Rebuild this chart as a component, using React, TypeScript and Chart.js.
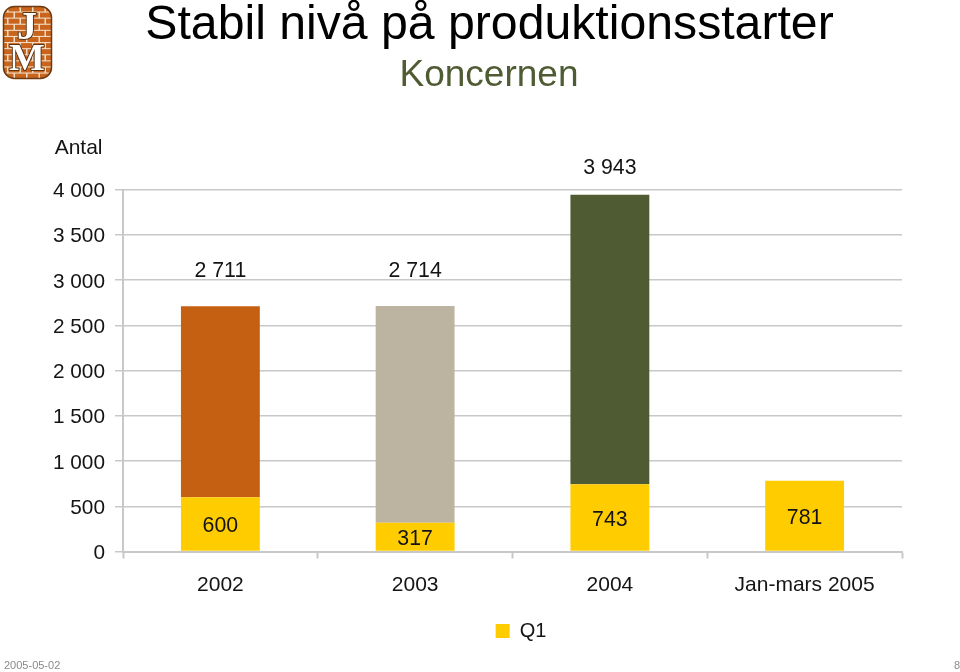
import React, { useEffect, useRef } from "react";
import { Chart, registerables } from "chart.js";

Chart.register(...registerables);

const categories = ["2002", "2003", "2004", "Jan-mars 2005"];
const q1Values = [600, 317, 743, 781];
const restValues = [2111, 2397, 3200, 0];
const restColors = ["#c55f12", "#bcb3a0", "#4f5b33", "#4f5b33"];
const totalLabels = ["2 711", "2 714", "3 943", ""];
const q1Labels = ["600", "317", "743", "781"];
const yTickValues = [0, 500, 1000, 1500, 2000, 2500, 3000, 3500, 4000];
const yTickLabels = ["0", "500", "1 000", "1 500", "2 000", "2 500", "3 000", "3 500", "4 000"];
const titleText = "Stabil nivå på produktionsstarter";
const subtitleText = "Koncernen";
const yAxisTitle = "Antal";
const footerDate = "2005-05-02";
const footerPage = "8";

const FONT = '"Liberation Sans", Arial, sans-serif';
const YELLOW = "#ffcc00";
const GRID = "#c8c8c8";
const TEXT = "#141414";
const totalLift = [35, 35, 27, 0];

function drawLogo(ctx: CanvasRenderingContext2D) {
  ctx.save();
  ctx.beginPath();
  ctx.roundRect(3.5, 6.5, 48, 72, 11);
  ctx.fillStyle = "#f0dcc4";
  ctx.fill();
  ctx.clip();
  ctx.fillStyle = "#c9641c";
  for (let r = 0; r < 12; r++) {
    const y = 6.5 + r * 6.1;
    const off = r % 2 === 0 ? -4 : -10;
    for (let x = off; x < 56; x += 12.5) {
      ctx.fillRect(x, y, 11, 5);
    }
  }
  ctx.restore();
  ctx.beginPath();
  ctx.roundRect(3.5, 6.5, 48, 72, 11);
  ctx.strokeStyle = "#6e3a12";
  ctx.lineWidth = 1.5;
  ctx.stroke();
  ctx.textAlign = "center";
  ctx.textBaseline = "alphabetic";
  ctx.lineJoin = "round";
  ctx.lineWidth = 2;
  ctx.strokeStyle = "#5a3413";
  ctx.fillStyle = "#ffffff";
  ctx.font = 'bold 40px "Liberation Serif", serif';
  ctx.strokeText("J", 27, 39);
  ctx.fillText("J", 27, 39);
  ctx.font = 'bold 38px "Liberation Serif", serif';
  ctx.strokeText("M", 27, 70);
  ctx.fillText("M", 27, 70);
}

const decorations = {
  id: "decorations",
  afterLayout(chart: any) {
    const legend = chart.legend;
    legend.left = 82;
    legend.right = 960;
    legend.top = 621;
    legend.bottom = 651;
    legend.adjustHitBoxes();
  },
  afterDraw(chart: any) {
    const ctx: CanvasRenderingContext2D = chart.ctx;
    ctx.save();
    drawLogo(ctx);
    ctx.textBaseline = "middle";
    ctx.textAlign = "center";
    ctx.fillStyle = "#000000";
    ctx.font = `48.2px ${FONT}`;
    ctx.fillText(titleText, 489.5, 26);
    ctx.fillStyle = "#4f5b33";
    ctx.font = `37px ${FONT}`;
    ctx.fillText(subtitleText, 489, 76);
    ctx.fillStyle = TEXT;
    ctx.font = `21px ${FONT}`;
    ctx.textAlign = "right";
    ctx.fillText(yAxisTitle, 102.5, 148);
    ctx.fillStyle = "#8a8a8a";
    ctx.font = `11px ${FONT}`;
    ctx.textAlign = "left";
    ctx.fillText(footerDate, 4, 666);
    ctx.textAlign = "right";
    ctx.fillText(footerPage, 960, 666);

    const x = chart.scales.x;
    const y = chart.scales.y;
    ctx.fillStyle = TEXT;
    ctx.font = `21.3px ${FONT}`;
    ctx.textAlign = "center";
    categories.forEach((_, i) => {
      const cx = x.getPixelForValue(i);
      ctx.fillText(q1Labels[i], cx, y.getPixelForValue(q1Values[i] / 2) + 2);
      if (totalLabels[i]) {
        ctx.fillText(
          totalLabels[i],
          cx,
          y.getPixelForValue(q1Values[i] + restValues[i]) - totalLift[i]
        );
      }
    });
    ctx.restore();
  },
};

export default function App() {
  const ref = useRef<HTMLCanvasElement | null>(null);
  useEffect(() => {
    const chart = new Chart(ref.current as HTMLCanvasElement, {
      type: "bar",
      data: {
        labels: categories,
        datasets: [
          {
            label: "Q1",
            data: q1Values,
            backgroundColor: YELLOW,
            barPercentage: 1,
            categoryPercentage: 0.405,
            stack: "a",
          },
          {
            label: "Övrigt",
            data: restValues,
            backgroundColor: restColors,
            barPercentage: 1,
            categoryPercentage: 0.405,
            stack: "a",
          },
        ],
      },
      options: {
        animation: false,
        responsive: false,
        layout: { padding: { top: 189.5, right: 58, bottom: 0, left: 0 } },
        plugins: {
          tooltip: { enabled: false },
          legend: {
            display: true,
            position: "bottom",
            labels: {
              filter: (item: any) => item.text === "Q1",
              boxWidth: 14,
              boxHeight: 14,
              padding: 0,
              color: TEXT,
              font: { family: FONT, size: 20 },
            },
          },
        },
        scales: {
          x: {
            stacked: true,
            afterFit: (s: any) => {
              s.height = 90.5;
            },
            border: { color: GRID, width: 2 },
            grid: {
              drawOnChartArea: false,
              drawTicks: true,
              tickLength: 7,
              tickColor: GRID,
              tickWidth: 2,
              offset: true,
            },
            ticks: {
              color: TEXT,
              padding: 14,
              maxRotation: 0,
              font: { family: FONT, size: 21 },
            },
          },
          y: {
            stacked: true,
            min: 0,
            max: 4000,
            afterFit: (s: any) => {
              s.width = 123;
            },
            afterBuildTicks: (s: any) => {
              s.ticks = yTickValues.map((value) => ({ value }));
            },
            border: { color: GRID, width: 2 },
            grid: { color: GRID, lineWidth: 1.5, tickLength: 8, tickColor: GRID },
            ticks: {
              color: TEXT,
              padding: 10,
              labelOffset: 2,
              font: { family: FONT, size: 20.8 },
              callback: (v: any) => yTickLabels[yTickValues.indexOf(Number(v))],
            },
          },
        },
      },
      plugins: [decorations],
    } as any);
    return () => chart.destroy();
  }, []);
  return (
    <div style={{ position: "absolute", left: 0, top: 0, width: 960, height: 672, background: "#fff" }}>
      <canvas ref={ref} width={960} height={672} style={{ display: "block" }} />
    </div>
  );
}
